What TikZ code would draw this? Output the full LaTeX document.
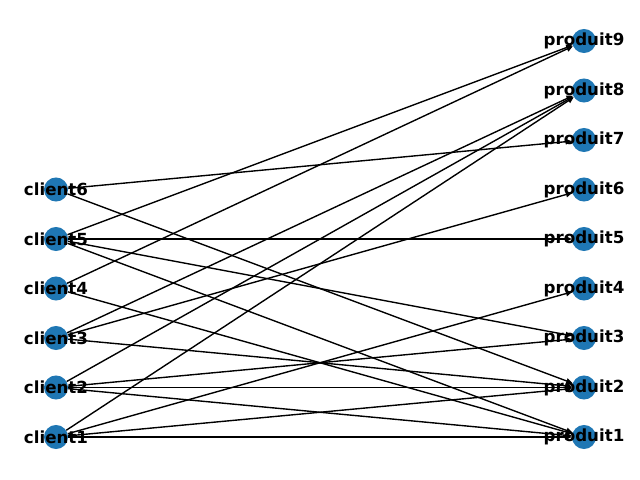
\documentclass[tikz,border=0pt]{standalone}
\usepackage{fontspec}
\setmainfont{DejaVu Sans}
\usepackage{tikz}
\usetikzlibrary{arrows.meta}
\definecolor{nxblue}{HTML}{1F77B4}

\begin{document}
\begin{tikzpicture}[x=0.72pt,y=-0.72pt,
	main_node/.style={circle,fill=nxblue,minimum size=17.3pt,inner sep=0pt},
	main_label/.style={font=\bfseries\fontsize{12}{14}\selectfont,inner sep=0pt},
	every edge/.style={draw,line width=1pt,-{Triangle[length=4.5pt,width=4pt]}}]
	\useasboundingbox (0,0) rectangle (640,480);
	% clients
	\node[main_node](c1) at (56,437){};
	\node[main_node](c2) at (56,387.5){};
	\node[main_node](c3) at (56,338){};
	\node[main_node](c4) at (56,288.5){};
	\node[main_node](c5) at (56,239){};
	\node[main_node](c6) at (56,189.5){};
	% produits
	\node[main_node](p1) at (584,437){};
	\node[main_node](p2) at (584,387.5){};
	\node[main_node](p3) at (584,338){};
	\node[main_node](p4) at (584,288.5){};
	\node[main_node](p5) at (584,239){};
	\node[main_node](p6) at (584,189.5){};
	\node[main_node](p7) at (584,140){};
	\node[main_node](p8) at (584,90.5){};
	\node[main_node](p9) at (584,41){};
	\path
	(c6) edge (p7)
	(c6) edge (p2)
	(c5) edge (p9)
	(c5) edge (p5)
	(c5) edge (p3)
	(c5) edge (p1)
	(c4) edge (p9)
	(c4) edge (p1)
	(c3) edge (p8)
	(c3) edge (p6)
	(c3) edge (p2)
	(c2) edge (p8)
	(c2) edge (p3)
	(c2) edge (p2)
	(c2) edge (p1)
	(c1) edge (p8)
	(c1) edge (p4)
	(c1) edge (p2)
	(c1) edge (p1);
	% labels
	\foreach \i in {1,...,6}
		\node[main_label] at (c\i) {client\i};
	\foreach \i in {1,...,9}
		\node[main_label] at (p\i) {produit\i};
\end{tikzpicture}
\end{document}
